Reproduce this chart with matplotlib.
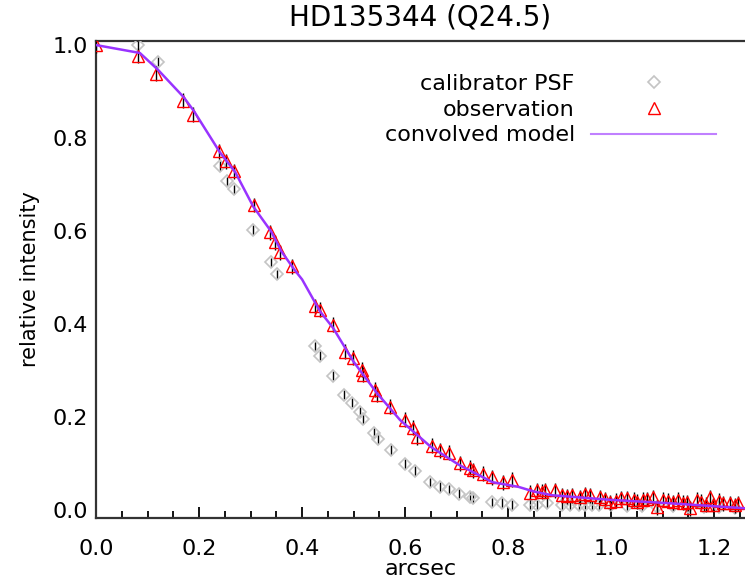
import matplotlib
matplotlib.use("Agg")
import matplotlib.pyplot as plt
from matplotlib.lines import Line2D
from matplotlib.ticker import MultipleLocator

# convolved model (purple line)
model_x = [0.0, 0.085, 0.12, 0.17, 0.19, 0.24, 0.27, 0.305, 0.34, 0.36, 0.385, 0.40,
           0.435, 0.46, 0.50, 0.545, 0.59, 0.65, 0.705, 0.77, 0.82, 0.85, 0.885,
           1.0, 1.11, 1.26]
model_y = [1.0, 0.983, 0.947, 0.888, 0.858, 0.770, 0.727, 0.653, 0.599, 0.556, 0.517, 0.496,
           0.427, 0.392, 0.319, 0.252, 0.194, 0.136, 0.097, 0.060, 0.050, 0.040, 0.032,
           0.022, 0.015, 0.004]

# observation (red triangles)
obs_x = [0.0, 0.082, 0.117, 0.169, 0.188, 0.239, 0.252, 0.268, 0.307, 0.338, 0.348, 0.357,
         0.381, 0.425, 0.435, 0.46, 0.483, 0.499, 0.516, 0.518, 0.542, 0.546, 0.571, 0.600,
         0.615, 0.624, 0.652, 0.668, 0.685, 0.707, 0.726, 0.732, 0.752, 0.769, 0.790, 0.808,
         0.843, 0.856, 0.866, 0.872, 0.891, 0.905, 0.915, 0.924, 0.940, 0.950, 0.959, 0.979,
         0.988, 0.998, 1.010, 1.020, 1.031, 1.044, 1.050, 1.062, 1.070, 1.082, 1.089, 1.101,
         1.110, 1.120, 1.130, 1.140, 1.147, 1.153, 1.167, 1.175, 1.185, 1.192, 1.198, 1.210,
         1.218, 1.231, 1.240, 1.247]
obs_y = [1.0, 0.977, 0.938, 0.880, 0.850, 0.772, 0.750, 0.729, 0.656, 0.597, 0.576, 0.554,
         0.524, 0.438, 0.431, 0.399, 0.341, 0.328, 0.302, 0.291, 0.259, 0.248, 0.222, 0.194,
         0.177, 0.157, 0.138, 0.129, 0.123, 0.101, 0.091, 0.086, 0.078, 0.071, 0.060, 0.065,
         0.037, 0.043, 0.040, 0.043, 0.043, 0.032, 0.030, 0.032, 0.028, 0.034, 0.032, 0.028,
         0.024, 0.017, 0.020, 0.026, 0.026, 0.022, 0.018, 0.022, 0.024, 0.028, 0.006, 0.022,
         0.020, 0.017, 0.022, 0.016, 0.017, 0.004, 0.022, 0.018, 0.012, 0.028, 0.011, 0.020,
         0.015, 0.015, 0.010, 0.015]

# calibrator PSF (grey diamonds)
cal_x = [0.082, 0.120, 0.241, 0.254, 0.268, 0.305, 0.340, 0.351, 0.425, 0.435, 0.46, 0.482,
         0.497, 0.513, 0.518, 0.540, 0.547, 0.572, 0.600, 0.619, 0.649, 0.668, 0.685, 0.705,
         0.726, 0.732, 0.769, 0.788, 0.808, 0.843, 0.856, 0.875, 0.905, 0.921, 0.937, 0.950,
         0.963, 0.976, 1.0, 1.03, 1.06, 1.09, 1.12, 1.15, 1.18, 1.21, 1.24]
cal_y = [1.0, 0.964, 0.740, 0.707, 0.690, 0.602, 0.533, 0.507, 0.352, 0.332, 0.289, 0.248,
         0.231, 0.211, 0.196, 0.166, 0.153, 0.129, 0.099, 0.084, 0.060, 0.050, 0.045, 0.035,
         0.028, 0.026, 0.017, 0.015, 0.011, 0.011, 0.011, 0.015, 0.011, 0.011, 0.010, 0.012,
         0.010, 0.011, 0.010, 0.008, 0.009, 0.007, 0.008, 0.006, 0.007, 0.006, 0.005]

obs_err = 0.016
cal_err = 0.010

fig = plt.figure(figsize=(7.45, 5.84), dpi=100)
ax = fig.add_axes([0.129, 0.113, 0.871, 0.817])

ax.errorbar(cal_x, cal_y, yerr=cal_err, fmt='none', ecolor='black', elinewidth=1, zorder=2)
ax.plot(cal_x, cal_y, ls='none', marker='D', ms=6, mfc='none', mec='#c4c4c4', mew=1.2, zorder=3)
ax.errorbar(obs_x, obs_y, yerr=obs_err, fmt='none', ecolor='black', elinewidth=1, zorder=4)
ax.plot(obs_x, obs_y, ls='none', marker='^', ms=9, mfc='none', mec='red', mew=1.0, zorder=5)
ax.plot(model_x, model_y, color='#9933ff', lw=1.8, zorder=6)

ax.set_xlim(0, 1.26)
ax.set_ylim(-0.017, 1.009)
ax.xaxis.set_major_locator(MultipleLocator(0.2))
ax.xaxis.set_minor_locator(MultipleLocator(0.05))
ax.yaxis.set_major_locator(MultipleLocator(0.2))
ax.xaxis.set_major_formatter(plt.FuncFormatter(lambda v, p: "%.1f" % v))
ax.yaxis.set_major_formatter(plt.FuncFormatter(lambda v, p: "%.1f" % v))
ax.tick_params(axis='x', which='major', direction='in', length=8, width=1.3, labelsize=16, pad=15)
ax.tick_params(axis='x', which='minor', direction='in', length=5, width=1.3)
ax.tick_params(axis='y', which='both', length=0, labelsize=16, pad=6)
for s in ax.spines.values():
    s.set_linewidth(1.6)
    s.set_color('#333333')
ax.spines['right'].set_visible(False)

ax.set_xlabel('arcsec', fontsize=16, labelpad=0)
ax.set_ylabel('relative intensity', fontsize=15, labelpad=9)
ax.set_title('HD135344 (Q24.5)', fontsize=20, pad=11)

handles = [Line2D([], [], ls='none', marker='D', ms=6, mfc='none', mec='#c4c4c4', mew=1.2),
           Line2D([], [], ls='none', marker='^', ms=9, mfc='none', mec='red', mew=1.0),
           Line2D([], [], color='#c080ff', lw=1.5)]
ax.legend(handles, ['calibrator PSF', 'observation', 'convolved model'],
          markerfirst=False, frameon=False, fontsize=16, handlelength=5.6,
          handletextpad=0.75, labelspacing=0.25, loc='upper right',
          bbox_to_anchor=(0.986, 0.972))

fig.savefig('out.png', dpi=100)
